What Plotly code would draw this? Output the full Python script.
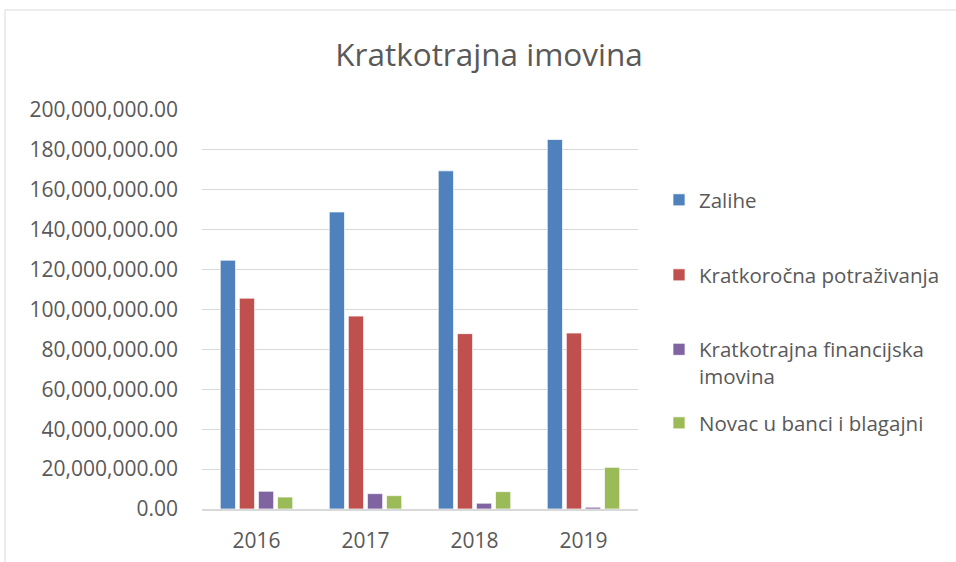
import plotly.graph_objects as go

years = ["2016", "2017", "2018", "2019"]
series_names = [
    "Zalihe",
    "Kratkoročna potraživanja",
    "Kratkotrajna financijska<br>imovina",
    "Novac u banci i blagajni",
]
zalihe = [124.7e6, 148.9e6, 169.5e6, 185.2e6]
potrazivanja = [105.7e6, 96.7e6, 87.9e6, 88.2e6]
financijska = [8.9e6, 7.7e6, 2.9e6, 0.9e6]
novac = [6.0e6, 6.7e6, 8.7e6, 20.9e6]
series_values = [zalihe, potrazivanja, financijska, novac]
colors = ["#4F81BD", "#C0504D", "#8064A2", "#9BBB59"]
y_ticks = [0, 20e6, 40e6, 60e6, 80e6, 100e6, 120e6, 140e6, 160e6, 180e6, 200e6]

W, H = 956, 562
ML, MR, MT, MB = 202, 318, 110, 53
PW = W - ML - MR
PH = H - MT - MB

def px_to_paper_x(px):
    return (px - ML) / PW

def px_to_paper_y(py):
    return (H - MB - py) / PH

FONT = "Open Sans"
TXT = "#595959"

fig = go.Figure()
legend_ids = ["legend", "legend2", "legend3", "legend4"]
for name, vals, col, lid in zip(series_names, series_values, colors, legend_ids):
    fig.add_trace(go.Bar(
        x=years, y=vals, name=name, marker_color=col,
        marker_line=dict(color="rgba(255,255,255,0.7)", width=1),
        legend=lid,
    ))

legend_centers = [200, 275, 363, 423]
layout_legends = {}
for lid, cy in zip(legend_ids, legend_centers):
    layout_legends[lid] = dict(
        x=px_to_paper_x(659), xanchor="left",
        y=px_to_paper_y(cy), yanchor="middle",
        font=dict(family=FONT, size=20.5, color=TXT),
        bgcolor="rgba(0,0,0,0)", valign="top",
        itemclick=False, itemdoubleclick=False,
    )

fig.update_layout(
    width=W, height=H,
    margin=dict(l=ML, r=MR, t=MT, b=MB, autoexpand=False),
    paper_bgcolor="white", plot_bgcolor="white",
    title=dict(text="Kratkotrajna imovina", x=489 / W, xanchor="center",
               y=1 - 55 / H, yanchor="middle",
               font=dict(family=FONT, size=31.5, color=TXT)),
    barmode="group", bargap=0.3, bargroupgap=0.2,
    showlegend=True,
    **layout_legends,
    shapes=[dict(type="rect", xref="paper", yref="paper",
                 x0=px_to_paper_x(5), x1=px_to_paper_x(970),
                 y0=px_to_paper_y(575), y1=px_to_paper_y(10),
                 line=dict(color="#d9d9d9", width=1), layer="below")],
)
fig.update_xaxes(
    showline=True, linecolor="#d9d9d9", linewidth=1.5,
    ticks="", ticklabelstandoff=12,
    tickfont=dict(family=FONT, size=21, color=TXT),
)
fig.update_yaxes(
    range=[0, 200e6], tickvals=y_ticks, tickformat=",.2f",
    showgrid=True, gridcolor="#d9d9d9", gridwidth=1.3,
    zeroline=False, showline=False, ticks="",
    ticklabelstandoff=23,
    tickfont=dict(family=FONT, size=21, color=TXT),
)

fig.write_html("out.html", config={"displayModeBar": False},
               post_script="document.body.style.margin='0';")
